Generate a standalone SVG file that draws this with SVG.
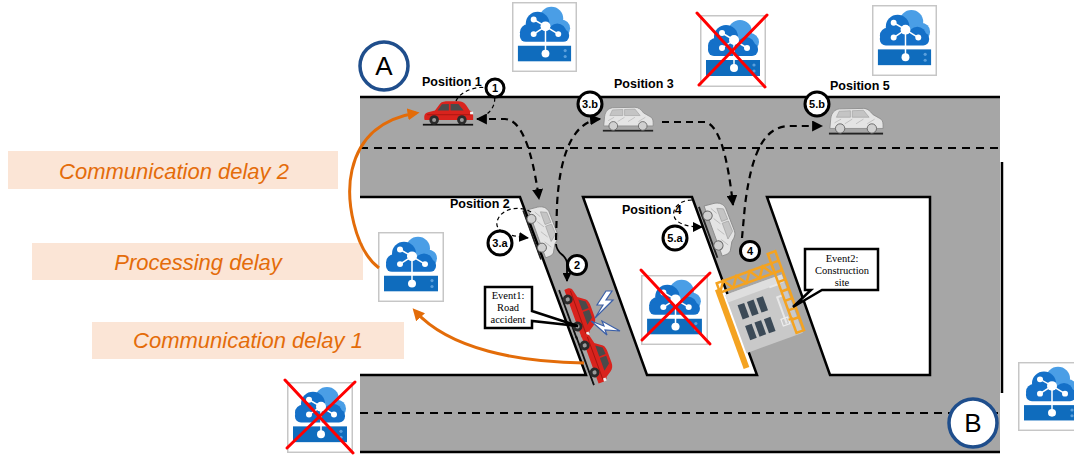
<svg xmlns="http://www.w3.org/2000/svg" xmlns:xlink="http://www.w3.org/1999/xlink" width="1074" height="455" viewBox="0 0 1074 455">
  <style>
    .edge { stroke: #000; stroke-width: 2.5; fill: none; }
    .lane { stroke: #000; stroke-width: 2; stroke-dasharray: 8 6; fill: none; }
    .pos { font-family: "Liberation Sans", Arial, sans-serif; font-weight: bold; font-size: 12.5px; fill: #000; }
    .delay-box { fill: #fbe5d6; }
    .delay { font-family: "Liberation Sans", Arial, sans-serif; font-style: italic; font-size: 22px; fill: #e46c0a; text-anchor: middle; }
    .step circle { fill: #fff; stroke: #000; stroke-width: 3; }
    .step text { font-family: "Liberation Sans", Arial, sans-serif; font-weight: bold; font-size: 11px; text-anchor: middle; fill: #000; }
    .hop { stroke: #000; stroke-width: 2.2; stroke-dasharray: 7 5; fill: none; }
    .loop { stroke: #000; stroke-width: 1.2; stroke-dasharray: 4 3; fill: none; }
    .delay-arrow { stroke: #e36c09; stroke-width: 3; fill: none; }
    .cross { stroke: #ff0000; stroke-width: 3; stroke-linecap: round; }
    .end { fill: #fff; stroke: #1f4e8c; stroke-width: 3.5; }
    .end-label { font-family: "Liberation Sans", Arial, sans-serif; font-size: 26px; text-anchor: middle; fill: #000; }
    .event { fill: #fff; stroke: #000; stroke-width: 2.5; stroke-linejoin: miter; }
    .event-text { font-family: "Liberation Serif", "Times New Roman", serif; font-size: 10.5px; text-anchor: middle; fill: #000; }
  </style>
  <defs>
    <marker id="ah" viewBox="0 0 10 10" refX="9" refY="5" markerWidth="5" markerHeight="5" orient="auto-start-reverse">
      <path d="M0,0 L10,5 L0,10 Z" fill="#000"/>
    </marker>
    <marker id="ah-thin" viewBox="0 0 10 10" refX="9" refY="5" markerUnits="userSpaceOnUse" markerWidth="10" markerHeight="10" orient="auto">
      <path d="M0,0 L10,5 L0,10 Z" fill="#000"/>
    </marker>
    <marker id="ah-orange" viewBox="0 0 10 10" refX="7" refY="5" markerWidth="4" markerHeight="4" orient="auto">
      <path d="M0,0 L10,5 L0,10 Z" fill="#e36c09"/>
    </marker>

    <!-- edge cloud server icon -->
    <symbol id="cloud" viewBox="0 0 66 72" preserveAspectRatio="none">
      <rect x="0.75" y="0.75" width="64.5" height="70.5" fill="#fff" stroke="#c6c6c6" stroke-width="1.5"/>
      <circle cx="40" cy="17" r="12" fill="#4a9ee6"/>
      <circle cx="50" cy="27" r="9" fill="#4a9ee6"/>
      <circle cx="26" cy="22" r="12" fill="#1470c8"/>
      <circle cx="16" cy="31" r="8" fill="#1470c8"/>
      <circle cx="46" cy="31" r="9" fill="#1470c8"/>
      <rect x="8" y="28" width="50" height="13" rx="6" fill="#1470c8"/>
      <rect x="6" y="45" width="54" height="16" fill="#0f6cbd"/>
      <circle cx="54" cy="50" r="1.6" fill="#5a9fdc"/>
      <circle cx="54" cy="56" r="1.6" fill="#5a9fdc"/>
      <g stroke="#fff" stroke-width="1.5">
        <line x1="34" y1="25" x2="22" y2="18"/>
        <line x1="34" y1="25" x2="22" y2="33"/>
        <line x1="34" y1="25" x2="47" y2="33"/>
        <line x1="34" y1="25" x2="34" y2="53"/>
      </g>
      <g fill="#fff">
        <circle cx="34" cy="25" r="5"/>
        <circle cx="22" cy="18" r="3"/>
        <circle cx="22" cy="33" r="3"/>
        <circle cx="47" cy="33" r="3"/>
        <circle cx="34" cy="53" r="4"/>
      </g>
    </symbol>

    <!-- small red hatchback, side view facing right -->
    <symbol id="car-red" viewBox="0 0 60 30">
      <rect x="1" y="27.5" width="58" height="2" fill="#111"/>
      <path d="M3,23 C2,18 3,15 7,14 L15,12 L21,4 C23,2 26,1.5 31,1.5 L42,1.5 C46,1.5 49,3 51,6 L55,12 C58,13 59,15 59,18 L59,23 Z" fill="#d9231d"/>
      <path d="M18,12 L23,5 L31,4.5 L31,12 Z M33,4.5 L42,4.5 L48,12 L33,12 Z" fill="#4a4a4a"/>
      <path d="M6,17 L57,17" stroke="#a3150f" stroke-width="1"/>
      <circle cx="14" cy="23" r="5.5" fill="#2b2b2b"/>
      <circle cx="14" cy="23" r="2.3" fill="#9a9a9a"/>
      <circle cx="46" cy="23" r="5.5" fill="#2b2b2b"/>
      <circle cx="46" cy="23" r="2.3" fill="#9a9a9a"/>
      <rect x="55.5" y="13.5" width="3.5" height="3" fill="#f2f2f2"/>
    </symbol>

    <!-- silver wagon, side view facing right -->
    <symbol id="car-silver" viewBox="0 0 60 30">
      <rect x="1" y="27.5" width="58" height="2" fill="#222"/>
      <path d="M2,23 L3,12 C4,6 7,3 12,2 L38,1.5 C42,1.5 45,4 48,8 L55,12 C58,13 59,16 59,19 L59,23 Z" fill="#e4e4e4" stroke="#8a8a8a" stroke-width="0.9"/>
      <path d="M9,11 L12,4.5 L24,4 L24,11 Z M26,4 L38,3.5 L44,11 L26,11 Z" fill="#c4c4c4" stroke="#999" stroke-width="0.6"/>
      <g stroke="#b5b5b5" stroke-width="0.8">
        <line x1="7" y1="17" x2="14" y2="13"/>
        <line x1="18" y1="18" x2="26" y2="13"/>
        <line x1="30" y1="18" x2="38" y2="13"/>
        <line x1="42" y1="18" x2="50" y2="13"/>
      </g>
      <circle cx="13" cy="23" r="5" fill="#d0d0d0" stroke="#666" stroke-width="1"/>
      <circle cx="47" cy="23" r="5" fill="#d0d0d0" stroke="#666" stroke-width="1"/>
    </symbol>
  </defs>

  <rect width="1074" height="455" fill="#fff"/>

  <!-- road network -->
  <g id="roads">
    <rect x="360" y="97" width="640" height="355" fill="#a6a6a6"/>
    <polygon points="360,197 520,197 586,375 360,375" fill="#fff"/>
    <polygon points="583,197 692,197 757,375 647,375" fill="#fff"/>
    <polygon points="767,197 930,197 930,375 830,375" fill="#fff"/>
    <line class="edge" x1="360" y1="97" x2="1000" y2="97"/>
    <line class="edge" x1="360" y1="452" x2="1000" y2="452"/>
    <polyline class="edge" points="360,197 520,197 586,375 360,375"/>
    <polygon class="edge" points="583,197 692,197 757,375 647,375"/>
    <polygon class="edge" points="767,197 930,197 930,375 830,375"/>
    <line class="edge" x1="1002" y1="162" x2="1002" y2="393" stroke-width="3"/>
    <line class="lane" x1="360" y1="148" x2="1000" y2="148"/>
    <line class="lane" x1="360" y1="413" x2="1000" y2="413"/>
  </g>

  <!-- route end points -->
  <g id="point-a">
    <circle class="end" cx="384" cy="66" r="24"/>
    <text class="end-label" x="384" y="75">A</text>
  </g>
  <g id="point-b">
    <circle class="end" cx="973" cy="423" r="24"/>
    <text class="end-label" x="973" y="432">B</text>
  </g>

  <!-- edge servers -->
  <g id="server-top-1"><use href="#cloud" x="512" y="2" width="65" height="70"/></g>
  <g id="server-top-2">
    <use href="#cloud" x="700" y="15" width="66" height="72"/>
    <line class="cross" x1="697" y1="13" x2="765" y2="87"/>
    <line class="cross" x1="767" y1="15" x2="699" y2="85"/>
  </g>
  <g id="server-top-3"><use href="#cloud" x="872" y="5" width="65" height="71"/></g>
  <g id="server-processing"><use href="#cloud" x="378" y="232" width="66" height="70"/></g>
  <g id="server-mid">
    <use href="#cloud" x="641" y="275" width="67" height="70"/>
    <line class="cross" x1="641" y1="270" x2="710" y2="344"/>
    <line class="cross" x1="710" y1="273" x2="642" y2="340"/>
  </g>
  <g id="server-bottom-left">
    <use href="#cloud" x="287" y="382" width="66" height="71"/>
    <line class="cross" x1="285" y1="380" x2="353" y2="453"/>
    <line class="cross" x1="355" y1="382" x2="287" y2="448"/>
  </g>
  <g id="server-bottom-right"><use href="#cloud" x="1018" y="362" width="66" height="69"/></g>

  <!-- delay labels -->
  <g id="label-comm-2">
    <rect class="delay-box" x="8" y="151" width="330" height="38"/>
    <text class="delay" x="174" y="179">Communication delay 2</text>
  </g>
  <g id="label-processing">
    <rect class="delay-box" x="32" y="243" width="331" height="37"/>
    <text class="delay" x="198" y="270">Processing delay</text>
  </g>
  <g id="label-comm-1">
    <rect class="delay-box" x="92" y="322" width="312" height="37"/>
    <text class="delay" x="248" y="348">Communication delay 1</text>
  </g>

  <!-- vehicles -->
  <g id="car-position-1"><use href="#car-red" x="422" y="100" width="52" height="26"/></g>
  <g id="car-position-3"><use href="#car-silver" x="602" y="106" width="52" height="26"/></g>
  <g id="car-position-5"><use href="#car-silver" x="828" y="107" width="56" height="28"/></g>
  <g id="car-position-2" transform="translate(543,231) rotate(70)">
    <use href="#car-silver" x="-27" y="-14" width="54" height="27"/>
  </g>
  <g id="car-position-4" transform="translate(720,228) rotate(70)">
    <use href="#car-silver" x="-28" y="-14" width="56" height="28"/>
  </g>

  <!-- event 1: collision -->
  <g id="accident">
    <g transform="translate(578,311) rotate(70)">
      <use href="#car-red" x="-27" y="-15" width="54" height="27"/>
    </g>
    <g transform="translate(595,357) rotate(70)">
      <use href="#car-red" x="-27" y="-15" width="54" height="27"/>
    </g>
    <polygon points="606,291 597,305 603,305 595,318 613,300 606,300 612,291" fill="#fff" stroke="#3a5fa8" stroke-width="1.2"/>
    <polygon points="591,321 604,326 602,321 620,331 605,330 607,335" fill="#fff" stroke="#3a5fa8" stroke-width="1.2"/>
  </g>

  <!-- event 2: construction site -->
  <g id="construction" transform="translate(763,311) rotate(-20)">
    <rect x="-30" y="-28" width="60" height="62" fill="#c9c9c9"/>
    <rect x="-30" y="-28" width="60" height="8" fill="#dedede"/>
    <path d="M14,-20 H24 V-8 H18 V20" fill="none" stroke="#e8e8e8" stroke-width="2"/>
    <rect x="14" y="14" width="7" height="7" fill="none" stroke="#eee" stroke-width="1.2"/>
    <line x1="21" y1="17" x2="26" y2="17" stroke="#f4a321" stroke-width="2"/>
    <g fill="#3c4a57">
      <rect x="-22" y="-14" width="7" height="15"/>
      <rect x="-12" y="-14" width="7" height="15"/>
      <rect x="-2" y="-14" width="7" height="15"/>
      <rect x="-22" y="8" width="7" height="15"/>
      <rect x="-12" y="8" width="7" height="15"/>
      <rect x="-2" y="8" width="7" height="15"/>
    </g>
    <rect x="-38" y="-36" width="6" height="84" fill="#f4a321"/>
    <g fill="none" stroke="#f4a321" stroke-width="2.5">
      <rect x="-34" y="-42" width="58" height="10"/>
      <polyline points="-34,-32 -27,-42 -20,-32 -13,-42 -6,-32 1,-42 8,-32 15,-42 22,-32"/>
      <rect x="24" y="-52" width="8" height="84"/>
      <path d="M24,-42 H32 M24,-32 H32 M24,-22 H32 M24,-12 H32 M24,-2 H32 M24,8 H32 M24,18 H32"/>
    </g>
  </g>

  <!-- event call-outs -->
  <g id="event-1">
    <path class="event" d="M485,287 H532 V311 L578,326 L532,321 V328 H485 Z"/>
    <text class="event-text" x="508" y="299">Event1:</text>
    <text class="event-text" x="508" y="311">Road</text>
    <text class="event-text" x="508" y="323">accident</text>
  </g>
  <g id="event-2">
    <path class="event" d="M805,249 H878 V290 H822 L793,307 L811,290 H805 Z"/>
    <text class="event-text" x="842" y="262">Event2:</text>
    <text class="event-text" x="842" y="274">Construction</text>
    <text class="event-text" x="842" y="286">site</text>
  </g>

  <!-- message hops between vehicles and servers -->
  <g id="connectors">
    <path class="hop" d="M477,119 L505,119 C522,120 532,150 539,199" marker-start="url(#ah)" marker-end="url(#ah)"/>
    <path class="loop" d="M456,101 C460,90 485,82 493,92 C497,100 494,110 484,116"/>
    <path class="hop" d="M556,240 L557,205 C560,150 575,121 600,119" marker-end="url(#ah)"/>
    <path d="M556,244 C557,256 566,253 567,263 L567,281" fill="none" stroke="#000" stroke-width="1.8" marker-end="url(#ah)"/>
    <path class="loop" d="M531,212 C520,205 500,208 497,222 C495,232 510,236 528,238" marker-end="url(#ah-thin)"/>
    <path class="hop" d="M662,122 L705,122 C720,125 728,160 733,205" marker-end="url(#ah)"/>
    <path class="hop" d="M742,238 L745,205 C752,150 765,126 790,126 L822,126" marker-end="url(#ah)"/>
    <path class="loop" d="M692,200 C680,200 672,208 674,216 C676,224 688,227 702,227" marker-end="url(#ah-thin)"/>
    <path class="delay-arrow" d="M584,363 C520,362 450,350 415,311" marker-end="url(#ah-orange)"/>
    <path class="delay-arrow" d="M379,268 C355,250 345,200 352,170 C360,135 385,118 416,113" marker-end="url(#ah-orange)"/>
  </g>

  <!-- position captions -->
  <g id="positions">
    <text class="pos" x="422" y="86">Position 1</text>
    <text class="pos" x="614" y="88">Position 3</text>
    <text class="pos" x="830" y="90">Position 5</text>
    <text class="pos" x="450" y="208">Position 2</text>
    <text class="pos" x="622" y="214">Position 4</text>
  </g>

  <!-- step markers -->
  <g id="step-1" class="step"><circle cx="495" cy="88" r="9"/><text x="495" y="92">1</text></g>
  <g id="step-3b" class="step"><circle cx="590" cy="104" r="12"/><text x="590" y="108">3.b</text></g>
  <g id="step-5b" class="step"><circle cx="817" cy="104" r="12"/><text x="817" y="108">5.b</text></g>
  <g id="step-2" class="step"><circle cx="577" cy="265" r="9.5"/><text x="577" y="269">2</text></g>
  <g id="step-4" class="step"><circle cx="750" cy="251" r="9.5"/><text x="750" y="255">4</text></g>
  <g id="step-3a" class="step"><circle cx="500" cy="243" r="12"/><text x="500" y="247">3.a</text></g>
  <g id="step-5a" class="step"><circle cx="675" cy="238" r="12"/><text x="675" y="242">5.a</text></g>
</svg>
